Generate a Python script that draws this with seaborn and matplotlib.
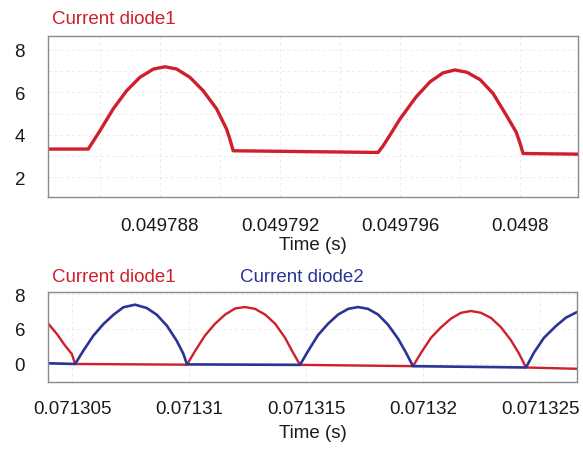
import matplotlib
matplotlib.use("Agg")
import matplotlib.pyplot as plt
from matplotlib.ticker import MultipleLocator
import seaborn as sns
import pandas as pd

# ---- upper panel: diode 1 current, early window ----
top_time = [0.04978427, 0.04978561, 0.049786, 0.04978644, 0.04978689, 0.04978733,
            0.04978778, 0.04978817, 0.04978856, 0.049789, 0.04978944, 0.04978989,
            0.04979022, 0.04979033, 0.04979044, 0.04979527, 0.04979543, 0.04979567,
            0.049796, 0.04979653, 0.049797, 0.04979743, 0.04979783, 0.04979823,
            0.04979867, 0.0497991, 0.04979953, 0.04979987, 0.0498, 0.0498001,
            0.04980193]
top_current = [3.33, 3.33, 4.19, 5.22, 6.08, 6.71,
               7.10, 7.21, 7.10, 6.71, 6.08, 5.22,
               4.27, 3.80, 3.25, 3.17, 3.47, 4.00,
               4.75, 5.78, 6.50, 6.92, 7.06, 6.95,
               6.60, 5.95, 4.95, 4.13, 3.60, 3.12,
               3.09]
top_xticks = [0.049788, 0.049792, 0.049796, 0.0498]
top_xticklabels = ["0.049788", "0.049792", "0.049796", "0.0498"]
top_yticks = [2, 4, 6, 8]
top_yticklabels = ["2", "4", "6", "8"]

# ---- lower panel: both diode currents, later window ----
d1_time = [0.07130397, 0.07130435, 0.0713047, 0.07130499, 0.07130506, 0.07130513,
           0.07130991, 0.07131026, 0.07131068, 0.07131111, 0.07131154, 0.07131197,
           0.07131239, 0.07131282, 0.07131325, 0.07131368, 0.0713141, 0.0713144,
           0.07131474, 0.07131957, 0.07131992, 0.07132034, 0.07132077, 0.0713212,
           0.07132162, 0.07132205, 0.07132248, 0.07132291, 0.07132333, 0.07132376,
           0.0713241, 0.0713244, 0.07132658]
d1_current = [4.65, 3.43, 2.10, 1.14, 0.57, 0.0,
              -0.08, 1.5, 3.25, 4.6, 5.65, 6.35,
              6.51, 6.3, 5.65, 4.6, 3.0, 1.5,
              -0.1, -0.25, 1.3, 3.0, 4.2, 5.2,
              5.85, 6.06, 5.85, 5.25, 4.2, 2.7,
              1.2, -0.4, -0.55]
d2_time = [0.07130397, 0.07130513, 0.07130548, 0.07130591, 0.07130634, 0.07130677,
           0.07130719, 0.07130769, 0.07130819, 0.07130862, 0.07130905, 0.07130947,
           0.07130976, 0.07130991, 0.07131474, 0.07131509, 0.07131551, 0.07131594,
           0.07131637, 0.0713168, 0.07131722, 0.07131765, 0.07131808, 0.0713185,
           0.07131893, 0.07131927, 0.07131957, 0.0713244, 0.07132474, 0.07132517,
           0.07132568, 0.07132611, 0.07132658]
d2_current = [0.08, 0.0, 1.52, 3.24, 4.57, 5.63,
              6.48, 6.78, 6.4, 5.63, 4.38, 2.66,
              1.14, -0.05, -0.1, 1.5, 3.3, 4.6,
              5.65, 6.3, 6.51, 6.3, 5.65, 4.5,
              2.9, 1.3, -0.25, -0.4, 1.3, 3.0,
              4.34, 5.3, 5.94]
bot_xticks = [0.071305, 0.07131, 0.071315, 0.07132, 0.071325]
bot_xticklabels = ["0.071305", "0.07131", "0.071315", "0.07132", "0.071325"]
bot_yticks = [0, 4, 8]
bot_yticklabels = ["0", "6", "8"]

RED = "#cf1f2c"
BLUE = "#283593"
FRAME = "#8a8a8a"
GRID = "#ececec"

sns.set_theme(style="white")
plt.rcParams["font.family"] = ["Liberation Sans", "DejaVu Sans"]
FS = 13.5

fig = plt.figure(figsize=(5.83, 4.52), dpi=100)
W, H = 583, 452


def box(x0, y0, x1, y1):
    return [x0 / W, 1 - y1 / H, (x1 - x0) / W, (y1 - y0) / H]


def style_axes(ax, xticks, xlabels, yticks, ylabels, xpad, xlabelpad):
    ax.set_xticks(xticks)
    ax.set_xticklabels(xlabels)
    ax.set_yticks(yticks)
    ax.set_yticklabels(ylabels)
    ax.tick_params(axis="both", length=0, labelsize=FS, colors="#1a1a1a")
    ax.tick_params(axis="x", pad=xpad)
    ax.tick_params(axis="y", pad=16.5)
    for s in ax.spines.values():
        s.set_color(FRAME)
        s.set_linewidth(1.0)
    ax.grid(True, which="both", color=GRID, lw=0.7, ls=(0, (3, 3)))
    ax.set_axisbelow(True)
    ax.set_xlabel("Time (s)", fontsize=FS, labelpad=xlabelpad, color="#1a1a1a")
    ax.set_ylabel("")


# upper axes
ax1 = fig.add_axes(box(48, 37, 578, 198))
df_top = pd.DataFrame({"t": top_time, "i": top_current})
sns.lineplot(data=df_top, x="t", y="i", ax=ax1, color=RED, lw=2.4,
             estimator=None, sort=False, solid_joinstyle="round")
ax1.set_xlim(0.04978427, 0.04980193)
ax1.set_ylim(1.07, 8.66)
style_axes(ax1, top_xticks, top_xticklabels, top_yticks, top_yticklabels, 14.5, 1)
ax1.xaxis.set_minor_locator(MultipleLocator(2e-6))
ax1.yaxis.set_minor_locator(MultipleLocator(1))
ax1.tick_params(which="minor", length=0)
fig.text(52 / W, 1 - 19 / H, "Current diode1", color=RED, fontsize=FS,
         ha="left", va="center")

# lower axes
ax2 = fig.add_axes(box(48, 293, 577, 383))
df_d1 = pd.DataFrame({"t": d1_time, "i": d1_current})
df_d2 = pd.DataFrame({"t": d2_time, "i": d2_current})
sns.lineplot(data=df_d1, x="t", y="i", ax=ax2, color=RED, lw=1.7,
             estimator=None, sort=False, solid_joinstyle="round")
sns.lineplot(data=df_d2, x="t", y="i", ax=ax2, color=BLUE, lw=1.9,
             estimator=None, sort=False, solid_joinstyle="round")
ax2.set_xlim(0.07130397, 0.07132658)
ax2.set_ylim(-2.06, 8.23)
style_axes(ax2, bot_xticks, bot_xticklabels, bot_yticks, bot_yticklabels, 13, 5)
fig.text(52 / W, 1 - 278 / H, "Current diode1", color=RED, fontsize=FS,
         ha="left", va="center")
fig.text(240 / W, 1 - 278 / H, "Current diode2", color=BLUE, fontsize=FS,
         ha="left", va="center")

fig.savefig("out.png", dpi=100)
